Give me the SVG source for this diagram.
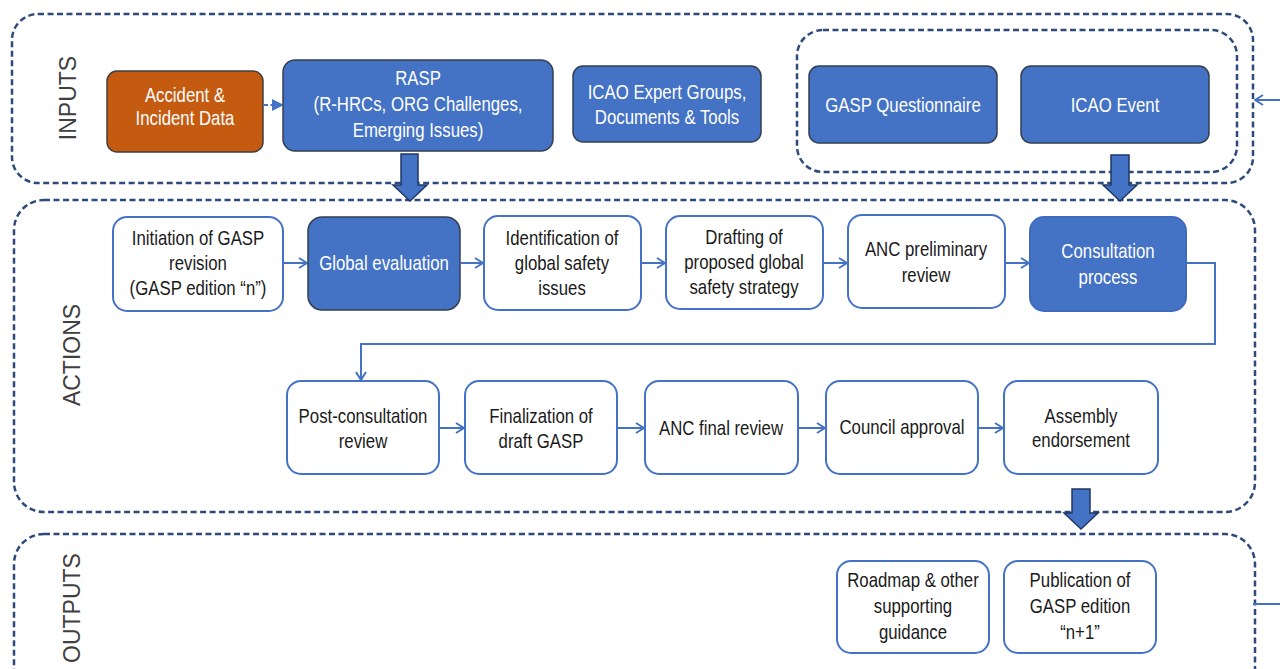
<svg xmlns="http://www.w3.org/2000/svg" width="1280" height="669" viewBox="0 0 1280 669">
<style>
.cont{fill:none;stroke:#2E4A7D;stroke-width:2.5;stroke-dasharray:6 3.5}
.blue{fill:#4472C4;stroke:#333F50;stroke-width:1.5}
.blueb{fill:#4472C4;stroke:#3E6BC0;stroke-width:2}
.orange{fill:#C55A11;stroke:#404040;stroke-width:1.5}
.white{fill:#FFFFFF;stroke:#4472C4;stroke-width:2}
.t{font-family:"Liberation Sans",Arial,sans-serif;font-size:20px;text-anchor:middle}
.tw{fill:#FFFFFF}
.tk{fill:#1A1A1A}
.sec{font-family:"Liberation Sans",Arial,sans-serif;font-size:23px;fill:#404040;text-anchor:middle}
.con{fill:none;stroke:#4472C4;stroke-width:2}
.block{fill:#4472C4;stroke:#203864;stroke-width:1.5}
</style>
<defs>
<marker id="chev" viewBox="0 0 10 12" refX="9" refY="6" markerWidth="10" markerHeight="12" markerUnits="userSpaceOnUse" orient="auto">
<path d="M1,1 L9,6 L1,11" fill="none" stroke="#4472C4" stroke-width="2"/>
</marker>
<marker id="tri" viewBox="0 0 12 12" refX="11" refY="6" markerWidth="12" markerHeight="12" markerUnits="userSpaceOnUse" orient="auto">
<path d="M0,0 L12,6 L0,12 Z" fill="#4472C4"/>
</marker>
</defs>

<g id="containers">
<rect class="cont" x="12" y="14" width="1241" height="169" rx="26"/>
<rect class="cont" x="797" y="30" width="440" height="142" rx="26"/>
<rect class="cont" x="14" y="200" width="1241" height="312" rx="30"/>
<rect class="cont" x="14" y="534" width="1241" height="170" rx="30"/>
</g>

<g id="section-labels">
<text class="sec" transform="translate(76,98) rotate(-90)">INPUTS</text>
<text class="sec" transform="translate(80,355) rotate(-90)">ACTIONS</text>
<text class="sec" transform="translate(80,608) rotate(-90)">OUTPUTS</text>
</g>

<g id="connectors">
<line x1="264" y1="105" x2="283" y2="105" stroke="#4472C4" stroke-width="2" stroke-dasharray="4 2.5" marker-end="url(#tri)"/>
<line class="con" x1="283" y1="263" x2="307" y2="263" marker-end="url(#chev)"/>
<line class="con" x1="461" y1="263" x2="483" y2="263" marker-end="url(#chev)"/>
<line class="con" x1="641" y1="263" x2="665" y2="263" marker-end="url(#chev)"/>
<line class="con" x1="823" y1="263" x2="847" y2="263" marker-end="url(#chev)"/>
<line class="con" x1="1005" y1="263" x2="1029" y2="263" marker-end="url(#chev)"/>
<polyline class="con" points="1187,263 1215,263 1215,344 361,344 361,380" marker-end="url(#chev)"/>
<line class="con" x1="439" y1="428" x2="464" y2="428" marker-end="url(#chev)"/>
<line class="con" x1="617" y1="428" x2="644" y2="428" marker-end="url(#chev)"/>
<line class="con" x1="798" y1="428" x2="825" y2="428" marker-end="url(#chev)"/>
<line class="con" x1="978" y1="428" x2="1003" y2="428" marker-end="url(#chev)"/>
<line class="con" x1="1280" y1="100" x2="1255" y2="100" marker-end="url(#chev)"/>
<line class="con" x1="1253" y1="604" x2="1280" y2="604" stroke-width="2.5"/>
<path class="block" d="M401,154 H418 V185 H427 L410,201 L393,185 H401 Z"/>
<path class="block" d="M1111,155 H1129 V185 H1137 L1120,201 L1103,185 H1111 Z"/>
<path class="block" d="M1072,489 H1090 V513 H1098 L1081,529 L1064,513 H1072 Z"/>
</g>

<g id="n-accident">
<rect class="orange" x="107" y="71" width="156" height="81" rx="10"/>
<text class="t tw" transform="translate(185,102) scale(0.84,1)">Accident &amp;</text>
<text class="t tw" transform="translate(185,125) scale(0.84,1)">Incident Data</text>
</g>
<g id="n-rasp">
<rect class="blue" x="283" y="60" width="270" height="91" rx="12"/>
<text class="t tw" transform="translate(418,85) scale(0.84,1)">RASP</text>
<text class="t tw" transform="translate(418,111) scale(0.84,1)">(R-HRCs, ORG Challenges,</text>
<text class="t tw" transform="translate(418,137) scale(0.84,1)">Emerging Issues)</text>
</g>
<g id="n-icao-expert">
<rect class="blue" x="573" y="66" width="188" height="76" rx="10"/>
<text class="t tw" transform="translate(667,99) scale(0.84,1)">ICAO Expert Groups,</text>
<text class="t tw" transform="translate(667,124) scale(0.84,1)">Documents &amp; Tools</text>
</g>
<g id="n-gasp-q">
<rect class="blue" x="809" y="66" width="188" height="77" rx="10"/>
<text class="t tw" transform="translate(903,112) scale(0.84,1)">GASP Questionnaire</text>
</g>
<g id="n-icao-event">
<rect class="blue" x="1021" y="66" width="188" height="77" rx="10"/>
<text class="t tw" transform="translate(1115,112) scale(0.84,1)">ICAO Event</text>
</g>

<g id="n-initiation">
<rect class="white" x="113" y="217" width="170" height="94" rx="14"/>
<text class="t tk" transform="translate(198,245) scale(0.84,1)">Initiation of GASP</text>
<text class="t tk" transform="translate(198,270) scale(0.84,1)">revision</text>
<text class="t tk" transform="translate(198,295) scale(0.84,1)">(GASP edition “n”)</text>
</g>
<g id="n-global-eval">
<rect class="blue" x="308" y="217" width="152" height="93" rx="14"/>
<text class="t tw" transform="translate(384,270) scale(0.84,1)">Global evaluation</text>
</g>
<g id="n-identification">
<rect class="white" x="484" y="216" width="157" height="94" rx="14"/>
<text class="t tk" transform="translate(562,245) scale(0.84,1)">Identification of</text>
<text class="t tk" transform="translate(562,270) scale(0.84,1)">global safety</text>
<text class="t tk" transform="translate(562,295) scale(0.84,1)">issues</text>
</g>
<g id="n-drafting">
<rect class="white" x="666" y="216" width="157" height="93" rx="14"/>
<text class="t tk" transform="translate(744,244) scale(0.84,1)">Drafting of</text>
<text class="t tk" transform="translate(744,269) scale(0.84,1)">proposed global</text>
<text class="t tk" transform="translate(744,294) scale(0.84,1)">safety strategy</text>
</g>
<g id="n-anc-prelim">
<rect class="white" x="848" y="215" width="157" height="93" rx="14"/>
<text class="t tk" transform="translate(926,256) scale(0.84,1)">ANC preliminary</text>
<text class="t tk" transform="translate(926,282) scale(0.84,1)">review</text>
</g>
<g id="n-consultation">
<rect class="blueb" x="1030" y="217" width="156" height="94" rx="14"/>
<text class="t tw" transform="translate(1108,258) scale(0.84,1)">Consultation</text>
<text class="t tw" transform="translate(1108,284) scale(0.84,1)">process</text>
</g>

<g id="n-post-consultation">
<rect class="white" x="287" y="381" width="152" height="93" rx="14"/>
<text class="t tk" transform="translate(363,423) scale(0.84,1)">Post-consultation</text>
<text class="t tk" transform="translate(363,448) scale(0.84,1)">review</text>
</g>
<g id="n-finalization">
<rect class="white" x="465" y="381" width="152" height="93" rx="14"/>
<text class="t tk" transform="translate(541,423) scale(0.84,1)">Finalization of</text>
<text class="t tk" transform="translate(541,448) scale(0.84,1)">draft GASP</text>
</g>
<g id="n-anc-final">
<rect class="white" x="645" y="381" width="153" height="93" rx="14"/>
<text class="t tk" transform="translate(721,435) scale(0.84,1)">ANC final review</text>
</g>
<g id="n-council">
<rect class="white" x="826" y="381" width="152" height="93" rx="14"/>
<text class="t tk" transform="translate(902,434) scale(0.84,1)">Council approval</text>
</g>
<g id="n-assembly">
<rect class="white" x="1004" y="381" width="154" height="93" rx="14"/>
<text class="t tk" transform="translate(1081,423) scale(0.84,1)">Assembly</text>
<text class="t tk" transform="translate(1081,447) scale(0.84,1)">endorsement</text>
</g>

<g id="n-roadmap">
<rect class="white" x="837" y="561" width="152" height="92" rx="14"/>
<text class="t tk" transform="translate(913,587) scale(0.84,1)">Roadmap &amp; other</text>
<text class="t tk" transform="translate(913,613) scale(0.84,1)">supporting</text>
<text class="t tk" transform="translate(913,639) scale(0.84,1)">guidance</text>
</g>
<g id="n-publication">
<rect class="white" x="1004" y="561" width="152" height="92" rx="14"/>
<text class="t tk" transform="translate(1080,587) scale(0.84,1)">Publication of</text>
<text class="t tk" transform="translate(1080,613) scale(0.84,1)">GASP edition</text>
<text class="t tk" transform="translate(1080,639) scale(0.84,1)">“n+1”</text>
</g>
</svg>
